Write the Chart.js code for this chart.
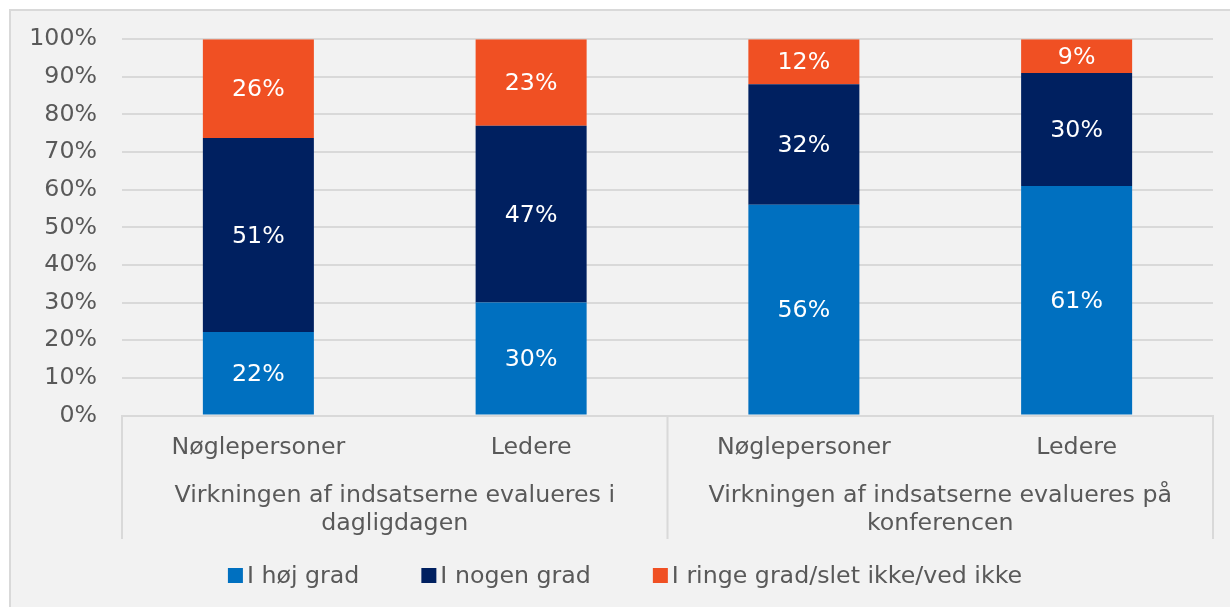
<!DOCTYPE html>
<html>
<head>
<meta charset="utf-8">
<script src="https://cdn.jsdelivr.net/npm/chart.js@4/dist/chart.umd.min.js"></script>
<style>
  html, body { margin: 0; padding: 0; background: #ffffff; }
  canvas { display: block; }
</style>
</head>
<body>
<canvas id="c" width="1230" height="607"></canvas>
<script>
// ---- data ----
const categories = ['Nøglepersoner', 'Ledere', 'Nøglepersoner', 'Ledere'];
const groupLabels = [
  ['Virkningen af indsatserne evalueres i', 'dagligdagen'],
  ['Virkningen af indsatserne evalueres på', 'konferencen']
];
const groupMembers = [[0, 1], [2, 3]];
const seriesNames = ['I høj grad', 'I nogen grad', 'I ringe grad/slet ikke/ved ikke'];
const hoejGrad = [22, 30, 56, 61];
const nogenGrad = [51, 47, 32, 30];
const ringeGrad = [26, 23, 12, 9];
const yTickValues = [0, 10, 20, 30, 40, 50, 60, 70, 80, 90, 100];

// ---- styling ----
const colors = ['#0070C0', '#002060', '#F05023'];
const textColor = '#595959';
const lineColor = '#d9d9d9';
const FONT = "'DejaVu Sans', Verdana, sans-serif";
const FS = 23.7;

// 100% stacked: each bar's segments are shares of the bar's total
const raw = [hoejGrad, nogenGrad, ringeGrad];
const totals = categories.map((_, i) => raw.reduce((s, arr) => s + arr[i], 0));
const shares = raw.map(arr => arr.map((v, i) => v / totals[i] * 100));

const decor = {
  id: 'decor',
  beforeDraw(chart) {
    const ctx = chart.ctx, W = chart.width, H = chart.height;
    ctx.save();
    ctx.fillStyle = '#ffffff';
    ctx.fillRect(0, 0, W, H);
    ctx.fillStyle = '#f2f2f2';
    ctx.fillRect(10, 10, W, H);
    ctx.strokeStyle = lineColor;
    ctx.lineWidth = 2;
    ctx.beginPath();
    ctx.moveTo(10, H + 2);
    ctx.lineTo(10, 10);
    ctx.lineTo(W + 2, 10);
    ctx.stroke();
    ctx.restore();
  },
  afterDraw(chart) {
    const ctx = chart.ctx;
    const xs = chart.scales.x;
    const area = chart.chartArea;
    const step = xs.getPixelForValue(1) - xs.getPixelForValue(0);
    ctx.save();
    // category box separators
    ctx.strokeStyle = lineColor;
    ctx.lineWidth = 2;
    const bounds = [xs.getPixelForValue(groupMembers[0][0]) - step / 2];
    groupMembers.forEach(g => bounds.push(xs.getPixelForValue(g[g.length - 1]) + step / 2));
    bounds.forEach(bx => {
      ctx.beginPath();
      ctx.moveTo(bx, area.bottom);
      ctx.lineTo(bx, xs.bottom);
      ctx.stroke();
    });
    // group labels
    ctx.fillStyle = textColor;
    ctx.font = FS + 'px ' + FONT;
    ctx.textAlign = 'center';
    ctx.textBaseline = 'middle';
    groupMembers.forEach((g, gi) => {
      const cx = (xs.getPixelForValue(g[0]) + xs.getPixelForValue(g[g.length - 1])) / 2;
      groupLabels[gi].forEach((line, li) => {
        ctx.fillText(line, cx, area.bottom + 80 + li * 28.4);
      });
    });
    // data labels
    ctx.fillStyle = '#ffffff';
    chart.data.datasets.forEach((ds, di) => {
      const meta = chart.getDatasetMeta(di);
      meta.data.forEach((el, i) => {
        ctx.fillText(raw[di][i] + '%', el.x, (el.y + el.base) / 2 + 1.5);
      });
    });
    // legend
    const box = 15, gapText = 4, gapItem = 62;
    const widths = seriesNames.map(n => ctx.measureText(n).width);
    const total = widths.reduce((s, w) => s + box + gapText + w, 0) + gapItem * (seriesNames.length - 1);
    let lx = 625 - total / 2;
    const ly = 575.5;
    ctx.textAlign = 'left';
    seriesNames.forEach((n, i) => {
      ctx.fillStyle = colors[i];
      ctx.fillRect(lx, ly - box / 2, box, box);
      ctx.fillStyle = textColor;
      ctx.fillText(n, lx + box + gapText, ly + 1);
      lx += box + gapText + widths[i] + gapItem;
    });
    ctx.restore();
  }
};

new Chart(document.getElementById('c'), {
  type: 'bar',
  data: {
    labels: categories,
    datasets: seriesNames.map((name, i) => ({
      label: name,
      data: shares[i],
      backgroundColor: colors[i],
      borderWidth: 0,
      barPercentage: 0.407,
      categoryPercentage: 1.0
    }))
  },
  options: {
    responsive: false,
    devicePixelRatio: 1,
    animation: false,
    layout: { padding: { left: 0, right: 17, top: 38, bottom: 68 } },
    plugins: {
      legend: { display: false },
      tooltip: { enabled: false },
      title: { display: false }
    },
    scales: {
      x: {
        stacked: true,
        grid: { display: false, drawTicks: false },
        border: { display: true, color: lineColor, width: 2 },
        ticks: {
          color: textColor,
          font: { family: FONT, size: FS },
          padding: 18.3,
          maxRotation: 0,
          autoSkip: false
        },
        afterFit(scale) { scale.height = 123.5; }
      },
      y: {
        stacked: true,
        min: 0,
        max: 100,
        afterBuildTicks(scale) { scale.ticks = yTickValues.map(v => ({ value: v })); },
        grid: { color: lineColor, lineWidth: 2, drawTicks: false },
        border: { display: false },
        ticks: {
          color: textColor,
          font: { family: FONT, size: FS },
          padding: 25,
          callback: v => v + '%'
        },
        afterFit(scale) { scale.width = 122; }
      }
    }
  },
  plugins: [decor]
});
</script>
</body>
</html>
